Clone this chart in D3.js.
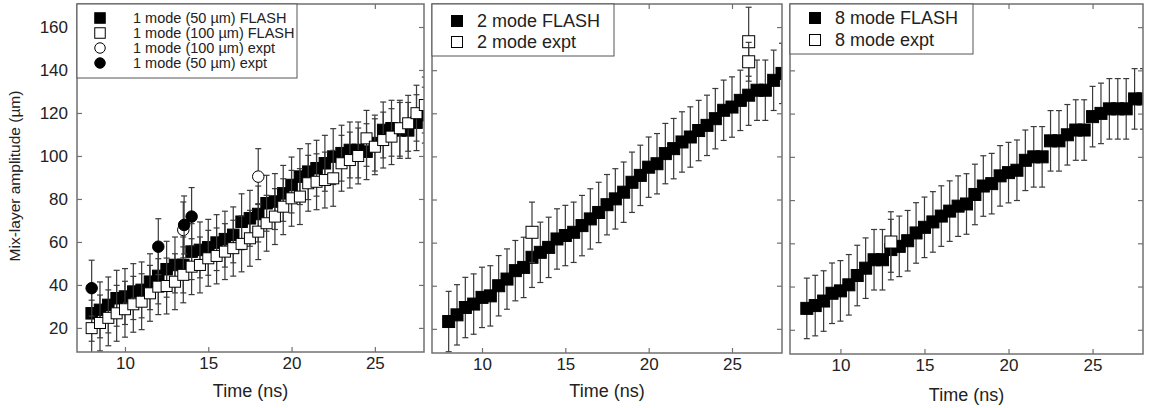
<!DOCTYPE html>
<html>
<head>
<meta charset="utf-8">
<script src="https://cdn.jsdelivr.net/npm/d3@7/dist/d3.min.js"></script>
<style>
  html, body { margin: 0; padding: 0; background: #fff; }
  svg { display: block; font-family: "Liberation Sans", Arial, Helvetica, sans-serif; }
</style>
</head>
<body>
<svg id="chart" width="1155" height="408"></svg>
<script>
// ---------- data ----------
const times = [8,8.5,9,9.5,10,10.5,11,11.5,12,12.5,13,13.5,14,14.5,15,15.5,16,16.5,17,17.5,18,18.5,19,19.5,20,20.5,21,21.5,22,22.5,23,23.5,24,24.5,25,25.5,26,26.5,27,27.5,28];

// Panel 1 : single mode
const flash1m50 = [26.8,28.4,30.7,33.8,34.6,36.9,37.7,41.5,44.2,47.3,49.3,49.3,55.5,56.3,57.5,59.7,61.3,63.3,69.4,71,73,78,78.8,82.6,86.5,90.4,92.7,94.3,96.6,99.7,101.3,102.8,102.8,102,106,112.1,112.9,111.9,111.9,115.5,119];
const flash1m50Err = [13,13,13,13,13,13,13,13,13,13,13,13,13,13,13,13,13,13,13,13,13,13,13,13,13,13,13,13,13,13,13,13,13,13,13,13,13,13,13,13,13];
const flash1m100 = [19.9,22.3,24.7,26.8,28.7,31,32.2,36.1,39.2,39.5,41.5,44.7,48.5,49.3,52.4,53.5,55.5,57.1,59.1,61.7,64.8,68.7,71.8,76.4,80.3,81.1,87.3,88,88.8,89.6,96.6,98.1,100,108.2,104.3,107.4,109,112.9,115.2,119.9,123.7];
const flash1m100Err = [13,13,13,13,13,13,13,13,13,13,13,13,13,13,13,13,13,13,13,13,13,13,13,13,13,13,13,13,13,13,13,13,13,13,13,13,13,13,13,13,13];
const expt1m100T = [13.5, 18];
const expt1m100 = [65.6, 90.4];
const expt1m100Err = [13, 13];
const expt1m50T = [8, 12, 13.55, 14];
const expt1m50 = [38.5, 57.8, 67.9, 71.8];
const expt1m50Err = [13, 13, 13.5, 13.5];

// Panel 2 : two mode
const flash2m = [23.4,26.5,29.9,31.5,34.6,35.3,40,43.1,47,48.5,53.2,55.5,57.8,61.7,63.3,64.8,67.9,71,74,77.6,80.3,83.4,88,91.2,95,96.6,101.3,103.6,106.7,109,112,114.4,117.5,121.4,122.9,126,128.4,130.7,130.7,135.3,138.5];
const flash2mErr = [14,14,14,14,14,14,14,14,14,14,14,14,14,14,14,14,14,14,14,14,14,14,14,14,14,14,14,14,14,14,14,14,14,14,14,14,14,14,14,14,14];
const expt2mT = [13, 26, 26];
const expt2m = [64.8, 153.2, 143.9];
const expt2mErr = [14, 16, 9];

// Panel 3 : eight mode
const flash8m = [29.9,31.2,33.3,36.9,38,40.8,45.1,48.5,52.4,52.4,57.1,58.6,61.2,64.8,67.4,69.9,72.6,74.9,77.2,78.2,82.6,86.5,87.6,91.2,92.7,93.8,98.4,100,100,107.4,107.4,110.2,112.4,112.4,118.6,120.1,122.2,122.2,122.2,126.8,126.8];
const flash8mErr = [14,14,14,14,14,14,14,14,14,14,14,14,14,14,14,14,14,14,14,14,14,14,14,14,14,14,14,14,14,14,14,14,14,14,14,14,14,14,14,14,14];
const expt8mT = [13];
const expt8m = [60.6];
const expt8mErr = [14];

const xTicks = [10, 15, 20, 25];
const yTicks = [20, 40, 60, 80, 100, 120, 140, 160];
const xTitle = "Time (ns)";
const yTitle = "Mix-layer amplitude (µm)";

// ---------- drawing ----------
const svg = d3.select("#chart");
const FRAME = "#707070", BAR = "#3a3a3a", TXT = "#222";

function zip(ts, vs, es) { return ts.map((t, i) => ({t, v: vs[i], e: es[i]})); }

const panels = [
  { left: 77, right: 424, top: 4, bottom: 352, xdom: [7.12, 27.95], yLabels: true,
    series: [
      { data: zip(times, flash1m50, flash1m50Err), shape: "square", fill: "#000", size: 11.5 },
      { data: zip(times, flash1m100, flash1m100Err), shape: "square", fill: "#fff", size: 11 },
      { data: zip(expt1m100T, expt1m100, expt1m100Err), shape: "circle", fill: "#fff", size: 11.5, perPoint: true },
      { data: zip(expt1m50T, expt1m50, expt1m50Err), shape: "circle", fill: "#000", size: 11.5, perPoint: true }
    ],
    legend: { w: 220, h: 74, mx: 23, tx: 56, rows: [14, 29, 44, 59], font: 14.5, msize: 10.5,
      items: [
        { label: "1 mode (50 µm) FLASH", shape: "square", fill: "#000" },
        { label: "1 mode (100 µm) FLASH", shape: "square", fill: "#fff" },
        { label: "1 mode (100 µm) expt", shape: "circle", fill: "#fff" },
        { label: "1 mode (50 µm) expt", shape: "circle", fill: "#000" }
      ] }
  },
  { left: 432, right: 782, top: 4, bottom: 353, xdom: [7.0, 28.0], yLabels: false,
    series: [
      { data: zip(times, flash2m, flash2mErr), shape: "square", fill: "#000", size: 12 },
      { data: zip(expt2mT, expt2m, expt2mErr), shape: "square", fill: "#fff", size: 12, perPoint: true }
    ],
    legend: { w: 182, h: 52, mx: 25, tx: 45, rows: [17, 38], font: 18, msize: 11,
      items: [
        { label: "2 mode FLASH", shape: "square", fill: "#000" },
        { label: "2 mode expt", shape: "square", fill: "#fff" }
      ] }
  },
  { left: 790, right: 1143, top: 4, bottom: 354, xdom: [7.0, 28.0], yLabels: false,
    series: [
      { data: zip(times, flash8m, flash8mErr), shape: "square", fill: "#000", size: 12 },
      { data: zip(expt8mT, expt8m, expt8mErr), shape: "square", fill: "#fff", size: 12, perPoint: true }
    ],
    legend: { w: 183, h: 50, mx: 25, tx: 45, rows: [14, 36], font: 18, msize: 11,
      items: [
        { label: "8 mode FLASH", shape: "square", fill: "#000" },
        { label: "8 mode expt", shape: "square", fill: "#fff" }
      ] }
  }
];

function drawMarker(sel, shape, fill, size) {
  if (shape === "square") {
    sel.append("rect")
      .attr("x", d => d.cx - size / 2).attr("y", d => d.cy - size / 2)
      .attr("width", size).attr("height", size)
      .attr("fill", fill).attr("stroke", "#000").attr("stroke-width", 1);
  } else {
    sel.append("circle")
      .attr("cx", d => d.cx).attr("cy", d => d.cy).attr("r", size / 2)
      .attr("fill", fill).attr("stroke", "#000").attr("stroke-width", 1);
  }
}

function drawBars(sel) {
  const b = sel.append("g").attr("stroke", BAR).attr("stroke-width", 1.2).attr("fill", "none");
  b.append("line").attr("x1", d => d.cx).attr("x2", d => d.cx).attr("y1", d => d.top).attr("y2", d => d.bot);
  b.append("line").attr("x1", d => d.cx - 3).attr("x2", d => d.cx + 3).attr("y1", d => d.top).attr("y2", d => d.top);
  b.append("line").attr("x1", d => d.cx - 3).attr("x2", d => d.cx + 3).attr("y1", d => d.bot).attr("y2", d => d.bot);
}

panels.forEach((p, pi) => {
  const x = d3.scaleLinear().domain(p.xdom).range([p.left, p.right]);
  const y = d3.scaleLinear().domain([8.8, 170.7]).range([p.bottom, p.top]);
  const g = svg.append("g");

  const clipId = "clip" + pi;
  svg.append("clipPath").attr("id", clipId).append("rect")
    .attr("x", p.left).attr("y", p.top).attr("width", p.right - p.left).attr("height", p.bottom - p.top);

  // axes (inward ticks on all four sides)
  const axB = g.append("g").attr("transform", `translate(0,${p.bottom})`)
    .call(d3.axisBottom(x).tickValues(xTicks).tickSize(-5).tickPadding(5).tickFormat(d3.format("d")));
  const axT = g.append("g").attr("transform", `translate(0,${p.top})`)
    .call(d3.axisTop(x).tickValues(xTicks).tickSize(-5).tickFormat(""));
  const axL = g.append("g").attr("transform", `translate(${p.left},0)`)
    .call(d3.axisLeft(y).tickValues(yTicks).tickSize(-5).tickPadding(9)
      .tickFormat(p.yLabels ? d3.format("d") : ""));
  const axR = g.append("g").attr("transform", `translate(${p.right},0)`)
    .call(d3.axisRight(y).tickValues(yTicks).tickSize(-5).tickFormat(""));
  [axB, axT, axL, axR].forEach(a => {
    a.select(".domain").remove();
    a.selectAll(".tick line").attr("stroke", FRAME).attr("stroke-width", 1.2);
    a.selectAll(".tick text").attr("fill", TXT).style("font-size", "17px");
  });

  // data
  const plot = g.append("g").attr("clip-path", `url(#${clipId})`);
  p.series.forEach(s => {
    const pts = s.data.map(d => ({ cx: x(d.t), cy: y(d.v), top: y(d.v + d.e), bot: y(d.v - d.e) }));
    if (s.perPoint) {
      const pg = plot.append("g").selectAll("g").data(pts).join("g");
      pg.each(function () {
        const one = d3.select(this);
        drawBars(one);
        drawMarker(one, s.shape, s.fill, s.size);
      });
    } else {
      const bars = plot.append("g").selectAll("g").data(pts).join("g");
      drawBars(bars);
      const m = plot.append("g").selectAll("g").data(pts).join("g");
      drawMarker(m, s.shape, s.fill, s.size);
    }
  });

  // frame
  g.append("rect").attr("x", p.left).attr("y", p.top)
    .attr("width", p.right - p.left).attr("height", p.bottom - p.top)
    .attr("fill", "none").attr("stroke", FRAME).attr("stroke-width", 1.5);

  // legend
  const L = p.legend;
  const lg = g.append("g");
  lg.append("rect").attr("x", p.left).attr("y", p.top).attr("width", L.w).attr("height", L.h)
    .attr("fill", "#fff").attr("stroke", "#555").attr("stroke-width", 1);
  L.items.forEach((it, i) => {
    const cy = p.top + L.rows[i];
    const mk = lg.append("g").datum({ cx: p.left + L.mx, cy: cy });
    drawMarker(mk, it.shape, it.fill, L.msize);
    lg.append("text").attr("x", p.left + L.tx).attr("y", cy).attr("dy", "0.36em")
      .attr("fill", TXT).style("font-size", L.font + "px").text(it.label);
  });

  // x title
  g.append("text").attr("x", (p.left + p.right) / 2).attr("y", pi === 2 ? 401 : 397)
    .attr("text-anchor", "middle").attr("fill", TXT).style("font-size", "18px").text(xTitle);
});

// y title
svg.append("text").attr("transform", "translate(20,176) rotate(-90)")
  .attr("text-anchor", "middle").attr("fill", TXT).style("font-size", "15.5px").text(yTitle);
</script>
</body>
</html>
